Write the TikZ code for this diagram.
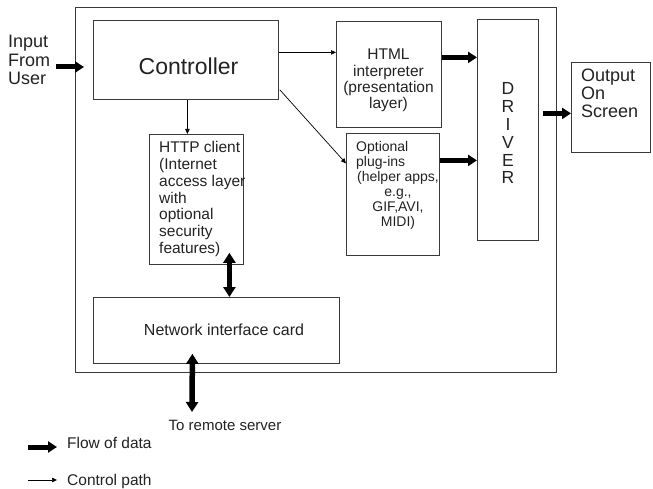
\documentclass[tikz,border=0pt]{standalone}
\usepackage{fontspec}
\setmainfont{Liberation Sans}
\usetikzlibrary{arrows.meta,calc}
\definecolor{boxc}{HTML}{3A3A3A}
\definecolor{txtc}{HTML}{222222}
\newcommand{\fs}[2]{\fontsize{#1}{#2}\selectfont}
\begin{document}
\begin{tikzpicture}[x=1pt,y=-1pt,
  box/.style={draw=boxc, line width=0.8pt, anchor=north west, inner sep=0pt},
  lbl/.style={inner sep=0pt, text=txtc},
  dataflow/.style={line width=5pt, -{Triangle[length=9pt,width=11pt]}},
  databoth/.style={line width=5.5pt, {Triangle[length=10pt,width=12pt]}-{Triangle[length=10pt,width=12pt]}},
  ctrlarrow/.style={line width=0.7pt, -{Triangle[length=5pt,width=4.5pt]}}]
\useasboundingbox (0,0) rectangle (653,489);
% boxes
\node[box, minimum width=481pt, minimum height=365pt] (outer) at (75,7) {};
\node[box, minimum width=185pt, minimum height=79pt] (ctrl) at (93,20) {};
\node[box, minimum width=94pt, minimum height=130pt] (http) at (149,134) {};
\node[box, minimum width=105pt, minimum height=106pt] (html) at (336,21) {};
\node[box, minimum width=93pt, minimum height=122pt] (plug) at (346,133) {};
\node[box, minimum width=61pt, minimum height=221pt] (driver) at (477,19) {};
\node[box, minimum width=79pt, minimum height=90pt] (out) at (571,62) {};
\node[box, minimum width=246pt, minimum height=66pt] (nic) at (93,297) {};
% texts
\node[lbl, anchor=base, font=\fs{23}{27}] (ctrlt) at (188.5,75) {Controller};
\node[lbl, anchor=base west, font=\fs{15.5}{16.7}] (httpt) at (159,153)
  {\begin{tabular}[t]{@{}l@{}}HTTP client\\(Internet\\access layer\\with\\optional\\security\\features)\end{tabular}};
\node[lbl, anchor=base, font=\fs{15.5}{16}] (htmlt) at (388.5,60)
  {\begin{tabular}[t]{@{}c@{}}HTML\\interpreter\\(presentation\\layer)\end{tabular}};
\node[lbl, anchor=base west, font=\fs{14}{15}] (plugt) at (356,152)
  {\begin{tabular}[t]{@{}l@{}}Optional\\plug-ins\end{tabular}};
\node[lbl, anchor=base, font=\fs{14}{15}] (plugu) at (398,182)
  {\begin{tabular}[t]{@{}c@{}}(helper apps,\\e.g.,\\GIF,AVI,\\MIDI)\end{tabular}};
\node[lbl, anchor=base, font=\fs{17.5}{17.8}] (drivert) at (508,95)
  {\begin{tabular}[t]{@{}c@{}}D\\R\\I\\V\\E\\R\end{tabular}};
\node[lbl, anchor=base west, font=\fs{18}{18}] (outt) at (581,82)
  {\begin{tabular}[t]{@{}l@{}}Output\\On\\Screen\end{tabular}};
\node[lbl, anchor=base west, font=\fs{18}{18.5}] (inpt) at (8,48)
  {\begin{tabular}[t]{@{}l@{}}Input\\From\\User\end{tabular}};
\node[lbl, anchor=base, font=\fs{16}{18}] (nict) at (224,335) {Network interface card};
\node[lbl, anchor=base, font=\fs{15}{18}] (remote) at (225,430) {To remote server};
\node[lbl, anchor=base west, font=\fs{15.5}{18}] (flowt) at (67,448) {Flow of data};
\node[lbl, anchor=base west, font=\fs{15.5}{18}] (ctrlpt) at (67,485) {Control path};
% coordinates
\coordinate (inA) at (56,67);
\coordinate (inB) at (84,67);
\coordinate (hn) at ($(http.south)+(33,-12)$);
\coordinate (nr) at ($(nic.south)+(-24,-10)$);
\coordinate (rs) at (192,412);
\coordinate (l1a) at (28,447);
\coordinate (l1b) at (57,447);
\coordinate (l2a) at (28,480);
\coordinate (l2b) at (57,480);
\coordinate (ch) at ($(http.north)+(-9,0)$);
% control arrows
\draw[ctrlarrow] (ch |- ctrl.south) -- (ch);
\coordinate (c1) at ($(ctrl.east)+(0,-7.5)$);
\draw[ctrlarrow] (c1) -- (c1 -| html.west);
\draw[ctrlarrow] ($(ctrl.south east)+(1,-10)$) -- ($(plug.west)+(0,-31)$);
% data arrows
\draw[dataflow] (inA) -- (inB);
\coordinate (d1) at ($(html.east)+(0,-17)$);
\draw[dataflow] (d1) -- (d1 -| driver.west);
\coordinate (d2) at ($(plug.east)+(0,-34)$);
\draw[dataflow] (d2) -- (d2 -| driver.west);
\coordinate (d3) at ($(driver.east |- out.west)+(4,6)$);
\draw[dataflow] (d3) -- (d3 -| out.west);
\draw[databoth] (hn) -- (hn |- nic.north);
\draw[databoth] (nr) -- (rs);
% legend
\draw[dataflow] (l1a) -- (l1b);
\draw[ctrlarrow] (l2a) -- (l2b);
\end{tikzpicture}
\end{document}
